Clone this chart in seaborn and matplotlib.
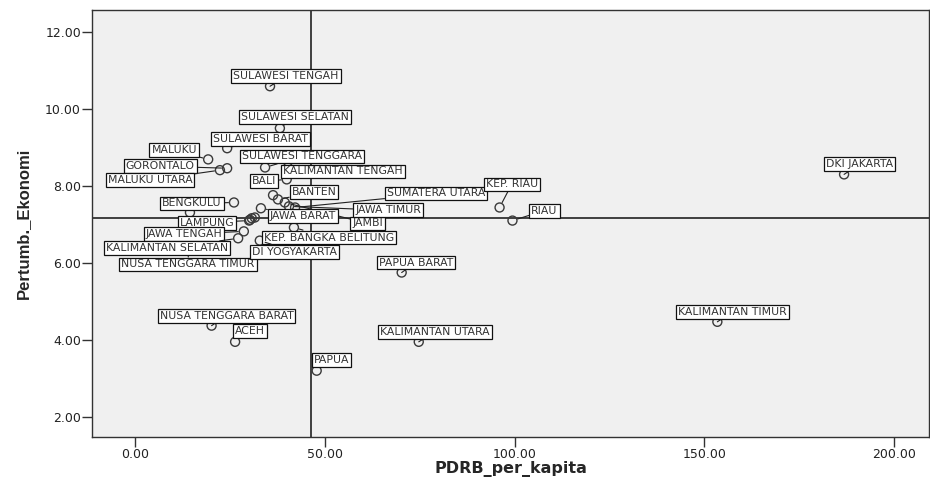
import pandas as pd
import seaborn as sns
import matplotlib.pyplot as plt

# Values (PDRB per kapita vs pertumbuhan ekonomi)
labels = [
    'SULAWESI TENGAH', 'SULAWESI SELATAN', 'SULAWESI BARAT', 'MALUKU',
    'GORONTALO', 'MALUKU UTARA', 'SULAWESI TENGGARA', 'KALIMANTAN TENGAH',
    'BALI', 'BENGKULU', 'NUSA TENGGARA TIMUR', '', 'BANTEN', 'JAMBI',
    'JAWA TIMUR', 'SUMATERA UTARA', 'JAWA BARAT', 'LAMPUNG', '', '', '',
    'KEP. BANGKA BELITUNG', 'JAWA TENGAH', 'KALIMANTAN SELATAN',
    'DI YOGYAKARTA', 'KEP. RIAU', 'RIAU', 'DKI JAKARTA', 'KALIMANTAN TIMUR',
    'PAPUA BARAT', 'KALIMANTAN UTARA', 'PAPUA', 'ACEH', 'NUSA TENGGARA BARAT',
]
pdrb = [
    35.5, 38.1, 24.2, 19.2, 24.2, 22.3, 34.2, 40.2, 39.9, 26.0, 14.4, 36.3,
    37.6, 39.4, 40.5, 42.1, 33.1, 30.0, 30.7, 31.5, 30.2, 41.8, 28.6, 27.1,
    32.8, 96.0, 99.4, 186.8, 153.4, 70.2, 74.7, 47.8, 26.3, 20.1,
]
growth = [
    10.59, 9.50, 8.98, 8.69, 8.46, 8.41, 8.48, 8.48, 8.17, 7.57, 7.31, 7.76,
    7.65, 7.57, 7.47, 7.44, 7.42, 7.10, 7.16, 7.18, 7.12, 6.92, 6.82, 6.64,
    6.58, 7.44, 7.10, 8.30, 4.47, 5.75, 3.95, 3.20, 3.95, 4.37,
]
x_ticks = [0, 50, 100, 150, 200]
y_ticks = [2, 4, 6, 8, 10, 12]

df = pd.DataFrame({'label': labels, 'PDRB_per_kapita': pdrb, 'Pertumb._Ekonomi': growth})

# where each label box sits relative to its point (pixels)
label_offsets = {
    'SULAWESI TENGAH': (16, 10), 'SULAWESI SELATAN': (15, 11),
    'SULAWESI BARAT': (33, 9), 'MALUKU': (-34, 9), 'GORONTALO': (-67, 2),
    'MALUKU UTARA': (-70, -10), 'SULAWESI TENGGARA': (37, 11),
    'KALIMANTAN TENGAH': (55, -4), 'BALI': (-23, -2), 'BENGKULU': (-42, -1),
    'BANTEN': (36, 7), 'SUMATERA UTARA': (141, 14), 'JAWA TIMUR': (99, -4),
    'JAMBI': (83, -21), 'JAWA BARAT': (42, -8), 'LAMPUNG': (-42, -2),
    'JAWA TENGAH': (-60, -3), 'KALIMANTAN SELATAN': (-71, -10),
    'NUSA TENGGARA TIMUR': (-2, -52), 'KEP. BANGKA BELITUNG': (35, -10),
    'DI YOGYAKARTA': (35, -11), 'KEP. RIAU': (12, 23), 'RIAU': (32, 10),
    'DKI JAKARTA': (15, 10), 'KALIMANTAN TIMUR': (15, 10),
    'PAPUA BARAT': (14, 10), 'KALIMANTAN UTARA': (16, 10), 'PAPUA': (15, 11),
    'ACEH': (15, 11), 'NUSA TENGGARA BARAT': (15, 10),
}

sns.set_style('ticks')
plt.rcParams['font.family'] = ['DejaVu Sans']

fig = plt.figure(figsize=(9.3, 4.78), dpi=100)
ax = fig.add_axes([0.099, 0.086, 0.9, 0.893])
ax.set_facecolor('#f0f0f0')

ax.axvline(df['PDRB_per_kapita'].mean(), color='#222222', lw=1.2, zorder=2)
ax.axhline(df['Pertumb._Ekonomi'].mean(), color='#222222', lw=1.2, zorder=2)

sns.scatterplot(data=df, x='PDRB_per_kapita', y='Pertumb._Ekonomi', ax=ax,
                s=42, marker='o', edgecolor='#3a3a3a', linewidth=1.0, zorder=3)
ax.collections[0].set_facecolor('none')

for _, row in df.iterrows():
    if not row['label']:
        continue
    ax.annotate(row['label'], (row['PDRB_per_kapita'], row['Pertumb._Ekonomi']),
                xytext=label_offsets[row['label']], textcoords='offset pixels',
                ha='center', va='center', fontsize=7.8, color='#333333',
                bbox=dict(boxstyle='square,pad=0.18', fc='white', ec='#111111', lw=0.9),
                arrowprops=dict(arrowstyle='-', color='#222222', lw=0.8,
                                shrinkA=0, shrinkB=4),
                zorder=4)

ax.set_xlim(-11.4, 209.2)
ax.set_ylim(1.48, 12.57)
ax.set_xticks(x_ticks)
ax.set_yticks(y_ticks)
ax.set_xticklabels([f'{v:.2f}' for v in x_ticks])
ax.set_yticklabels([f'{v:.2f}' for v in y_ticks])
ax.tick_params(length=7, width=1, color='#333333', labelsize=9, labelcolor='#222222', pad=1)

for sp in ax.spines.values():
    sp.set_color('#333333')
    sp.set_linewidth(1)

ax.set_xlabel('PDRB_per_kapita', fontsize=11.5, fontweight='bold', labelpad=0)
ax.set_ylabel('Pertumb._Ekonomi', fontsize=12, fontweight='bold',
              family=['Liberation Sans', 'DejaVu Sans'], labelpad=10)

fig.savefig('out.png', dpi=100)
